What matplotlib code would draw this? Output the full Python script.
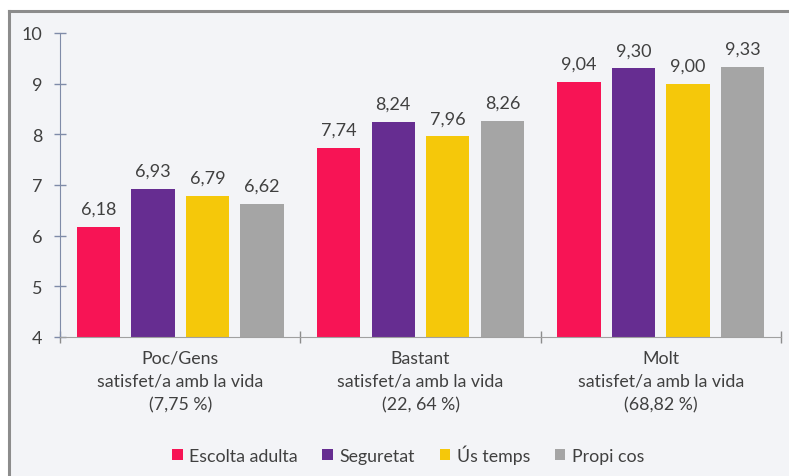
import matplotlib.pyplot as plt
import numpy as np
from matplotlib.patches import Rectangle
from matplotlib.lines import Line2D

plt.rcParams['font.family'] = ['Lato', 'DejaVu Sans']

categories = ["Poc/Gens\nsatisfet/a amb la vida\n(7,75 %)",
              "Bastant\nsatisfet/a amb la vida\n(22, 64 %)",
              "Molt\nsatisfet/a amb la vida\n(68,82 %)"]
series = ["Escolta adulta", "Seguretat", "Ús temps", "Propi cos"]
escolta = [6.18, 7.74, 9.04]
seguretat = [6.93, 8.24, 9.30]
us_temps = [6.79, 7.96, 9.00]
propi_cos = [6.62, 8.26, 9.33]
colors = ["#F71455", "#662D91", "#F5C80A", "#A5A5A5"]

txt = "#404040"
bg = "#F3F4F7"

fig = plt.figure(figsize=(7.89, 4.77), dpi=100)
# background panel with left/top border
fig.patches.append(Rectangle((10/789, 0), 1, (477-13)/477, transform=fig.transFigure,
                             facecolor=bg, edgecolor='none', zorder=-10))
fig.lines.append(Line2D([9/789, 9/789], [0, (477-12)/477], transform=fig.transFigure,
                        color="#8C8C8C", lw=2.2, zorder=-9))
fig.lines.append(Line2D([9/789, 1], [(477-12)/477, (477-12)/477], transform=fig.transFigure,
                        color="#8C8C8C", lw=2.2, zorder=-9))

ax = fig.add_axes([60/789, 139/477, 721/789, 304/477])
ax.set_facecolor('none')

x = np.arange(len(categories))
w = 0.18
step = 0.227
data = [escolta, seguretat, us_temps, propi_cos]
for i, (vals, name, c) in enumerate(zip(data, series, colors)):
    pos = x + (i - 1.5) * step
    ax.bar(pos, np.array(vals) - 4, width=w, bottom=4, color=c, label=name, zorder=2)
    for p, v in zip(pos, vals):
        ax.text(p, v + 0.2, f"{v:.2f}".replace('.', ','), ha='center', va='bottom',
                fontsize=13, color=txt)

ax.set_xlim(-0.5, 2.5)
ax.set_ylim(4, 10)
ax.set_yticks(range(4, 11))
ax.tick_params(axis='y', direction='inout', length=9, color="#7F8BA8", width=1,
               labelsize=13, labelcolor=txt, pad=8)
ax.set_xticks([-0.5, 0.5, 1.5, 2.5], minor=True)
ax.set_xticks(x)
ax.set_xticklabels(categories, fontsize=12.8, color=txt, linespacing=1.55)
ax.tick_params(axis='x', which='major', length=0, pad=9)
ax.tick_params(axis='x', which='minor', direction='inout', length=9, color="#8C8C8C", width=1)

for s in ['top', 'right']:
    ax.spines[s].set_visible(False)
ax.spines['left'].set_color("#7F8BA8")
ax.spines['bottom'].set_color("#A0A0A0")

ax.legend(loc='center', bbox_to_anchor=(408/789, (477-455)/477), bbox_transform=fig.transFigure,
          ncol=4, frameon=False, fontsize=12.8, handlelength=0.6, handleheight=0.6,
          handletextpad=0.35, columnspacing=1.4, labelcolor=txt)

fig.savefig("out.png", dpi=100)
